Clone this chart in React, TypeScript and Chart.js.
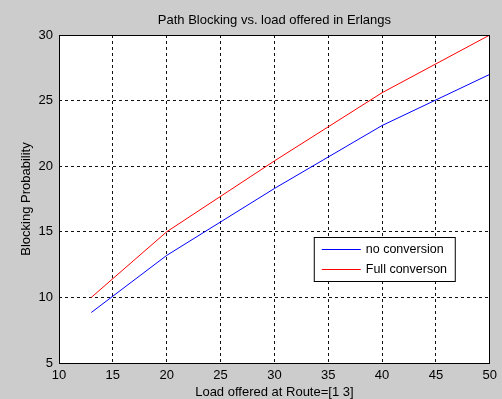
import React, { useEffect, useRef } from 'react';
import { Chart, registerables } from 'chart.js';

Chart.register(...registerables);

const loadOffered = [13, 20, 30, 40, 50];
const noConversion = [8.85, 13.2, 18.3, 23.1, 27.0];
const fullConversion = [10.0, 15.0, 20.4, 25.6, 30.0];
const seriesLabels = ['no conversion', 'Full converson'];
const seriesColors = ['#0000ff', '#ff0000'];
const xRange = [10, 50];
const yRange = [5, 30];
const tickStep = 5;
const titleText = 'Path Blocking vs. load offered in Erlangs';
const xTitle = 'Load offered at Route=[1 3]';
const yTitle = 'Blocking Probability';

const FONT = '"Liberation Sans", Arial, sans-serif';

export default function App() {
  const ref = useRef<HTMLCanvasElement | null>(null);

  useEffect(() => {
    document.body.style.margin = '0';
    const canvas = ref.current;
    if (!canvas) return;

    const decor = {
      id: 'decor',
      beforeDraw(chart: any) {
        const { ctx, width, height, chartArea } = chart;
        ctx.save();
        ctx.fillStyle = '#cccccc';
        ctx.fillRect(0, 0, width, height);
        ctx.fillStyle = '#ffffff';
        ctx.fillRect(chartArea.left, chartArea.top, chartArea.right - chartArea.left, chartArea.bottom - chartArea.top);
        ctx.restore();
      },
      afterDatasetsDraw(chart: any) {
        const { ctx, chartArea } = chart;
        const { left, right, top, bottom } = chartArea;
        ctx.save();
        // axes box
        ctx.strokeStyle = '#000000';
        ctx.lineWidth = 1;
        ctx.setLineDash([]);
        ctx.strokeRect(Math.round(left) + 0.5, Math.round(top) + 0.5, Math.round(right - left) - 1, Math.round(bottom - top));

        // titles
        ctx.fillStyle = '#000000';
        ctx.font = `13px ${FONT}`;
        ctx.textAlign = 'center';
        ctx.textBaseline = 'middle';
        ctx.fillText(titleText, (left + right) / 2, top - 15);
        ctx.fillText(xTitle, (left + right) / 2, bottom + 29);
        ctx.save();
        ctx.translate(left - 33, (top + bottom) / 2);
        ctx.rotate(-Math.PI / 2);
        ctx.fillText(yTitle, 0, 0);
        ctx.restore();

        // legend
        const bx = right - 176;
        const by = top + 202;
        const bw = 141;
        const bh = 44;
        ctx.fillStyle = '#ffffff';
        ctx.fillRect(bx, by, bw, bh);
        ctx.strokeStyle = '#000000';
        ctx.strokeRect(bx + 0.5, by + 0.5, bw, bh);
        ctx.font = `12.5px ${FONT}`;
        ctx.textAlign = 'left';
        seriesLabels.forEach((lab, i) => {
          const y = by + 12.5 + i * 20;
          ctx.strokeStyle = seriesColors[i];
          ctx.beginPath();
          ctx.moveTo(bx + 8, y);
          ctx.lineTo(bx + 47, y);
          ctx.stroke();
          ctx.fillStyle = '#000000';
          ctx.fillText(lab, bx + 52, y + 0.5);
        });
        ctx.restore();
      },
    };

    const chart = new Chart(canvas, {
      type: 'line',
      data: {
        datasets: [
          {
            label: seriesLabels[0],
            data: loadOffered.map((x, i) => ({ x, y: noConversion[i] })),
            borderColor: seriesColors[0],
            borderWidth: 1,
            pointRadius: 0,
            fill: false,
            tension: 0,
          },
          {
            label: seriesLabels[1],
            data: loadOffered.map((x, i) => ({ x, y: fullConversion[i] })),
            borderColor: seriesColors[1],
            borderWidth: 1,
            pointRadius: 0,
            fill: false,
            tension: 0,
          },
        ],
      },
      options: {
        responsive: false,
        animation: false,
        layout: { padding: { top: 35, right: 9, left: 0, bottom: 0 } },
        plugins: {
          legend: { display: false },
          title: { display: false },
          tooltip: { enabled: false },
        },
        scales: {
          x: {
            type: 'linear',
            min: xRange[0],
            max: xRange[1],
            afterFit: (s: any) => { s.height = 36; },
            ticks: {
              stepSize: tickStep,
              color: '#000000',
              padding: 5,
              maxRotation: 0,
              font: { family: FONT, size: 13 },
            },
            grid: { color: '#111111', lineWidth: 1, drawTicks: false },
            border: { display: false, dash: [3, 3] },
          },
          y: {
            type: 'linear',
            min: yRange[0],
            max: yRange[1],
            afterFit: (s: any) => { s.width = 59; },
            ticks: {
              stepSize: tickStep,
              color: '#000000',
              padding: 6,
              font: { family: FONT, size: 13 },
            },
            grid: { color: '#111111', lineWidth: 1, drawTicks: false },
            border: { display: false, dash: [3, 3] },
          },
        },
      },
      plugins: [decor],
    });

    return () => chart.destroy();
  }, []);

  return (
    <div style={{ width: 502, height: 399 }}>
      <canvas ref={ref} width={502} height={399} style={{ display: 'block' }} />
    </div>
  );
}
